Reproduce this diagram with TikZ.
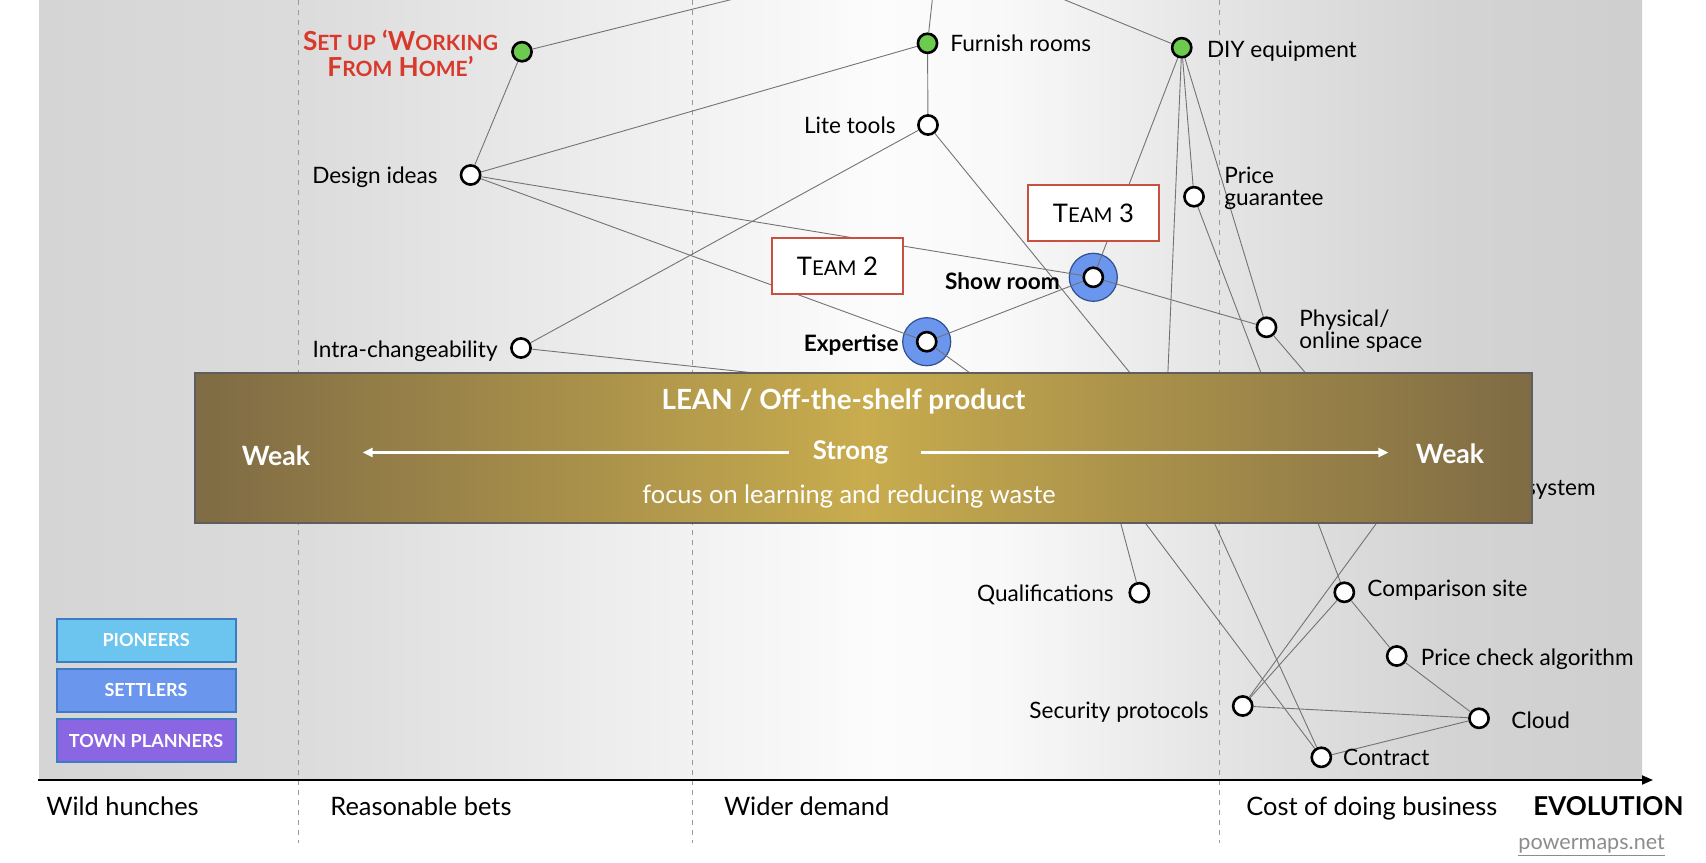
\documentclass[tikz,border=0pt]{standalone}
\usepackage{fontspec}
\setmainfont{Lato}
\usetikzlibrary{arrows.meta}

\definecolor{dotgreen}{HTML}{6CCB4F}
\definecolor{ringblue}{HTML}{6A96EE}
\definecolor{ringedge}{HTML}{2F4F8F}
\definecolor{teamred}{HTML}{C8503F}
\definecolor{setupred}{HTML}{D9392B}
\definecolor{pioneer}{HTML}{6BC5EF}
\definecolor{settler}{HTML}{6A96EE}
\definecolor{planner}{HTML}{8A66E2}
\definecolor{legendedge}{HTML}{3E7BC5}
\definecolor{leanmid}{HTML}{C8AC4E}
\definecolor{leanedge}{HTML}{7F6B45}
\definecolor{leanborder}{HTML}{5E5E5E}

\pgfdeclarehorizontalshading{panel}{100bp}{rgb(0bp)=(.835,.835,.835); rgb(25bp)=(.835,.835,.835); rgb(33bp)=(.86,.86,.86); rgb(43.75bp)=(.937,.937,.937); rgb(51.25bp)=(.988,.988,.988); rgb(55bp)=(.975,.975,.975); rgb(61.85bp)=(.895,.895,.895); rgb(69bp)=(.83,.83,.83); rgb(75bp)=(.81,.81,.81); rgb(100bp)=(.81,.81,.81)}

\tikzset{
	edge/.style={draw=black!55, line width=.45pt},
	dot/.style={circle, draw=black, line width=1.3pt, fill=white, inner sep=0pt, minimum size=9.6pt},
	gdot/.style={dot, fill=dotgreen},
	ring/.style={circle, draw=ringedge, line width=.6pt, fill=ringblue, inner sep=0pt, minimum size=24pt},
	lbl/.style={inner sep=0pt, font=\fontsize{11.3}{13.5}\selectfont, text height=11pt, text depth=2.4pt},
	blbl/.style={lbl, font=\fontsize{11.3}{13.5}\selectfont\bfseries},
	mlbl/.style={inner sep=0pt, align=left, font=\fontsize{11.3}{11}\selectfont},
	team/.style={draw=teamred, line width=1pt, fill=white, minimum width=65.8pt, minimum height=27.8pt, inner sep=0pt, font=\fontsize{12.8}{15}\selectfont},
	legend/.style={draw=legendedge, line width=1pt, minimum width=89.6pt, minimum height=21.5pt, inner sep=0pt, text=white, font=\fontsize{9}{10}\selectfont\bfseries},
	axislbl/.style={inner sep=0pt, anchor=west, font=\fontsize{12.7}{15}\selectfont, text height=12pt, text depth=2.3pt},
	stage/.style={draw=black!40, line width=.5pt, dash pattern=on 2.5pt off 2.5pt},
	leantxt/.style={inner sep=0pt, text=white},
	leanarrow/.style={draw=white, line width=1.2pt, -{Triangle[length=5pt,width=4.5pt]}}
}

\begin{document}
\begin{tikzpicture}[x=0.5pt, y=-0.5pt]
	\useasboundingbox (0,0) rectangle (1706,862);
	\clip (0,0) rectangle (1706,862);

	\shade[shading=panel] (39,0) rectangle (1642,780);
	\draw[stage] (298,0) -- (298,843);
	\draw[stage] (692.6,0) -- (692.6,843);
	\draw[stage] (1219.7,0) -- (1219.7,843);

	\node[ring] (showring) at (1093.3,277.3) {};
	\node[ring] (expring) at (926.7,341.7) {};

	\node[gdot] (setup) at (522,51.7) {};
	\node[gdot] (furnish) at (927.5,43.3) {};
	\node[gdot] (diy) at (1181.7,47.7) {};
	\node[dot] (lite) at (928,125) {};
	\node[dot] (design) at (470.6,175) {};
	\node[dot] (intra) at (521,348) {};
	\node[dot] (priceg) at (1194,196.7) {};
	\node[dot] (show) at (1093.3,277.3) {};
	\node[dot] (expertise) at (926.7,341.7) {};
	\node[dot] (physical) at (1266.5,327.3) {};
	\node[dot] (system) at (1403,487) {};
	\node[dot] (qual) at (1139.3,592.7) {};
	\node[dot] (compare) at (1344.3,592.3) {};
	\node[dot] (pcheck) at (1396.7,656) {};
	\node[dot] (security) at (1242.7,706) {};
	\node[dot] (cloud) at (1479,718.3) {};
	\node[dot] (contract) at (1321.3,757.3) {};
	\coordinate (need) at (938,-52);
	\coordinate (hub1) at (1166,417);
	\coordinate (hub2) at (1107,472);

	\draw[edge] (need) -- (setup);
	\draw[edge] (need) -- (furnish);
	\draw[edge] (need) -- (diy);
	\draw[edge] (setup) -- (design);
	\draw[edge] (design) -- (furnish);
	\draw[edge] (design) -- (show);
	\draw[edge] (design) -- (expertise);
	\draw[edge] (furnish) -- (lite);
	\draw[edge] (lite) -- (intra);
	\draw[edge] (lite) -- (hub1);
	\draw[edge] (intra) -- (hub1);
	\draw[edge] (expertise) -- (show);
	\draw[edge] (expertise) -- (hub2);
	\draw[edge] (diy) -- (show);
	\draw[edge] (diy) -- (hub1);
	\draw[edge] (diy) -- (priceg);
	\draw[edge] (diy) -- (physical);
	\draw[edge] (priceg) -- (compare);
	\draw[edge] (show) -- (physical);
	\draw[edge] (physical) -- (system);
	\draw[edge] (system) -- (security);
	\draw[edge] (hub1) -- (contract);
	\draw[edge] (hub2) -- (contract);
	\draw[edge] (hub2) -- (qual);
	\draw[edge] (compare) -- (security);
	\draw[edge] (compare) -- (pcheck);
	\draw[edge] (pcheck) -- (cloud);
	\draw[edge] (security) -- (cloud);
	\draw[edge] (contract) -- (cloud);

	\node[team] (team3) at (1093.5,212.9) {T{\fontsize{10.2}{12}\selectfont EAM}~3};
	\node[team] (team2) at (837.5,265.8) {T{\fontsize{10.2}{12}\selectfont EAM}~2};

	\node[inner sep=0pt, align=center, text=setupred, font=\fontsize{13.1}{13.3}\selectfont\bfseries] (setuplbl) at (400.5,53.5)
		{S{\fontsize{10.5}{11}\selectfont ET UP} ‘W{\fontsize{10.5}{11}\selectfont ORKING}\\F{\fontsize{10.5}{11}\selectfont ROM} H{\fontsize{10.5}{11}\selectfont OME}’};
	\node[lbl, anchor=west] (furnishlbl) at (950,43.3) {Furnish rooms};
	\node[lbl, anchor=west] (diylbl) at (1206.6,49) {DIY equipment};
	\node[lbl, anchor=east] (litelbl) at (896,125) {Lite tools};
	\node[lbl, anchor=east] (designlbl) at (438,175) {Design ideas};
	\node[lbl, anchor=east] (intralbl) at (498,349) {Intra-changeability};
	\node[mlbl, anchor=west] (priceglbl) at (1224,188) {Price\\guarantee};
	\node[blbl, anchor=east] (showlbl) at (1060,281) {Show room};
	\node[blbl, anchor=east] (explbl) at (899,343) {Expertise};
	\node[mlbl, anchor=west] (physicallbl) at (1299,331.5) {Physical/\\online space};
	\node[lbl, anchor=east] (systemlbl) at (1596,487) {system};
	\node[lbl, anchor=east] (quallbl) at (1114,592.7) {Qualifications};
	\node[lbl, anchor=west] (comparelbl) at (1367,588) {Comparison site};
	\node[lbl, anchor=west] (pchecklbl) at (1420.5,657) {Price check algorithm};
	\node[lbl, anchor=east] (securitylbl) at (1209,710) {Security protocols};
	\node[lbl, anchor=west] (cloudlbl) at (1511,720) {Cloud};
	\node[lbl, anchor=west] (contractlbl) at (1342.7,757) {Contract};

	\node[draw=leanborder, line width=1pt, left color=leanedge, right color=leanedge, middle color=leanmid,
		minimum width=668.5pt, minimum height=75pt, inner sep=0pt] (lean) at (863.5,448) {};
	\node[leantxt, font=\fontsize{13.9}{16}\selectfont\bfseries] (leantitle) at (843.5,401) {LEAN / Off-the-shelf product};
	\node[leantxt, font=\fontsize{12.9}{14}\selectfont\bfseries] (strong) at (850.5,452.5) {Strong};
	\node[leantxt, font=\fontsize{13.3}{14}\selectfont\bfseries] (weakl) at (276,456) {Weak};
	\node[leantxt, font=\fontsize{13.3}{14}\selectfont\bfseries] (weakr) at (1450,454) {Weak};
	\node[leantxt, font=\fontsize{12.7}{14}\selectfont] (focus) at (849,496) {focus on learning and reducing waste};
	\draw[leanarrow, shorten <=11.5pt, shorten >=26pt] (strong.west) -- (strong.west -| weakl.east);
	\draw[leanarrow, shorten <=16pt, shorten >=13.5pt] (strong.east) -- (strong.east -| weakr.west);

	\node[legend, fill=pioneer] (pioneers) at (146.1,640.2) {PIONEERS};
	\node[legend, fill=settler] (settlers) at (146.1,690.2) {SETTLERS};
	\node[legend, fill=planner] (planners) at (146.1,740.5) {TOWN PLANNERS};

	\coordinate (axisL) at (38,780);
	\coordinate (axisR) at (1653,780);
	\draw[line width=1pt, -{Triangle[length=5.5pt,width=4.5pt]}] (axisL) -- (axisR);
	\node[axislbl] (wild) at (46,806) {Wild hunches};
	\node[axislbl] (bets) at (330,806) {Reasonable bets};
	\node[axislbl] (wider) at (723.6,806) {Wider demand};
	\node[axislbl] (cost) at (1246,806) {Cost of doing business};
	\node[axislbl, font=\fontsize{13}{15}\selectfont\bfseries] (evolution) at (1533,806) {EVOLUTION};
	\node[axislbl, text=black!45, font=\fontsize{10.8}{13}\selectfont, text height=9pt, text depth=3pt] (credit) at (1518,843) {\underline{powermaps.net}};
\end{tikzpicture}
\end{document}
